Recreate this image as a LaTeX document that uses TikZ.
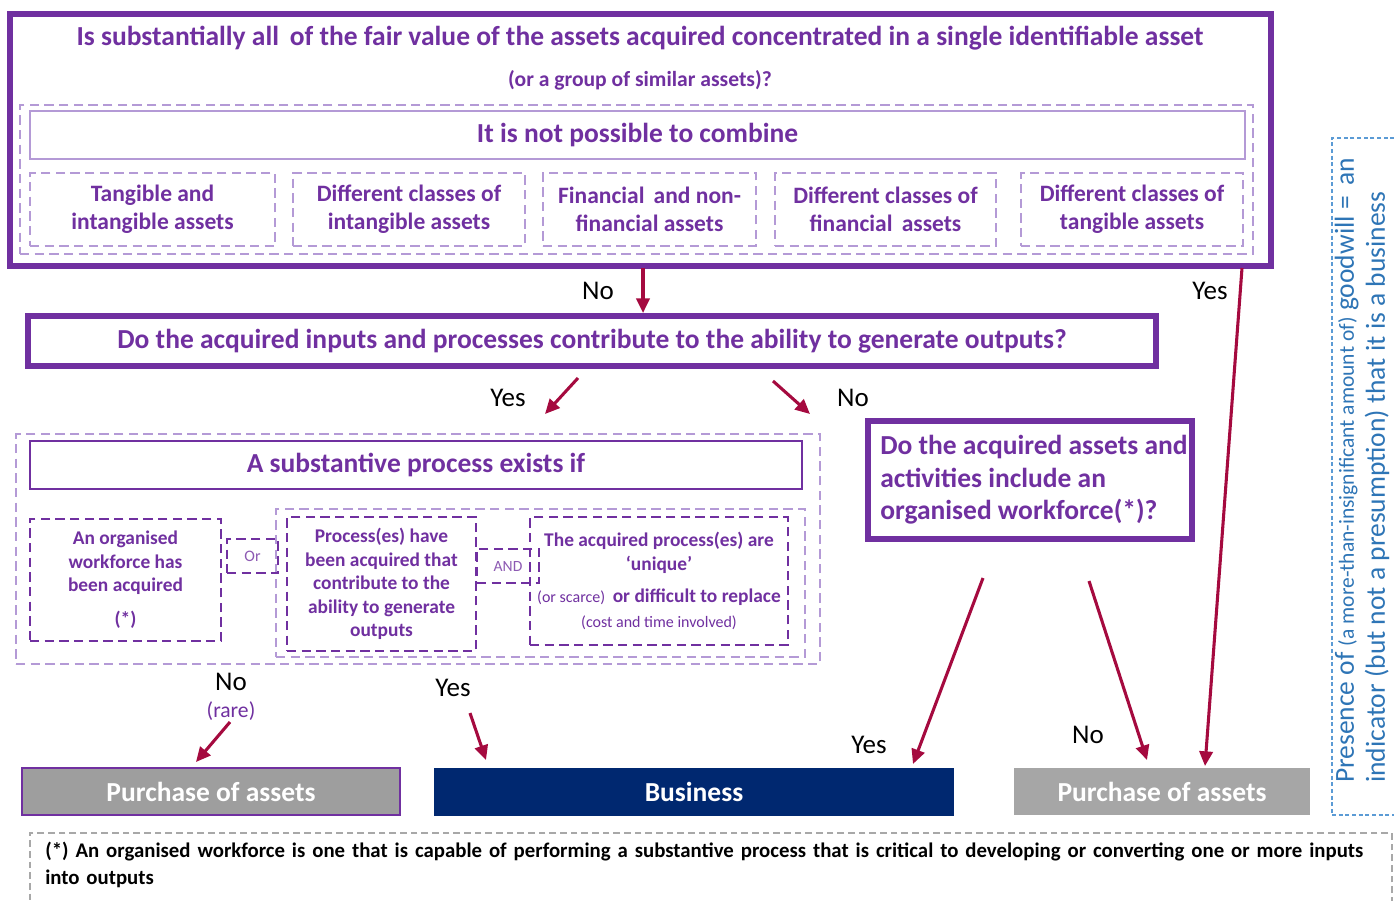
\documentclass[tikz,border=0pt]{standalone}
\usepackage{fontspec}
\setmainfont{Carlito}
\usetikzlibrary{arrows.meta}
\definecolor{pur}{HTML}{7030A0}
\definecolor{lpur}{HTML}{B49AD6}
\definecolor{crim}{HTML}{A50A3F}
\definecolor{navy}{HTML}{002870}
\definecolor{gryA}{HTML}{9E9E9E}
\definecolor{gryB}{HTML}{A6A6A6}
\definecolor{blu}{HTML}{5B9BD5}
\definecolor{blutxt}{HTML}{2E75B6}
\definecolor{ngry}{HTML}{A8A8A8}
\newcommand\fsz[2]{\fontsize{\dimexpr #1pt*3/4\relax}{\dimexpr #2pt*3/4\relax}\selectfont}
\begin{document}
\begin{tikzpicture}[x=0.75pt,y=-0.75pt,
  sz/.style 2 args={minimum width=#1*0.75pt, minimum height=#2*0.75pt, inner sep=0pt},
  obox/.style={draw=pur, line width=4.2pt},
  mbox/.style={draw=pur, line width=2pt},
  lsol/.style={draw=lpur, line width=2pt},
  ldash/.style={draw=lpur, line width=1.6pt, dash pattern=on 7pt off 4pt},
  ddash/.style={draw=pur, line width=1.9pt, dash pattern=on 7pt off 4pt},
  ptxt/.style={text=pur, font=\bfseries\fsz{27.5}{32}, align=center},
  stxt/.style={text=pur, font=\bfseries\fsz{23.5}{28}, align=center},
  ptxt2/.style={text=pur, font=\bfseries\fsz{19.4}{23.5}, align=center},
  lbl/.style={text=black, font=\fsz{27}{30}, inner sep=0pt},
  arr/.style={draw=crim, line width=2.3pt, -{Triangle[length=11pt,width=10pt]}},
  res/.style={text=white, font=\bfseries\fsz{27.5}{32}, inner sep=0pt},
]
\useasboundingbox (0,0) rectangle (1394,900);
\fill[white] (0,0) rectangle (1394,900);

% ---- top question
\node[obox, sz={1261}{252}] (top) at (640.5,140) {};
\node[ptxt, inner sep=0pt] (title) at (640,38) {Is substantially all\, of the fair value of the assets acquired concentrated in a single identifiable asset};
\node[text=pur, font=\bfseries\fsz{21.6}{25}, inner sep=0pt] (subt) at (640,80) {(or a group of similar assets)?};
\node[ldash, sz={1233}{149}] (combo) at (636.5,179.5) {};
\node[lsol, sz={1215}{48}, ptxt] (comb) at (637.5,135) {It is not possible to combine};
\node[ldash, sz={245}{73}, stxt] (c1) at (152.5,209.5) {Tangible and\\intangible assets};
\node[ldash, sz={232}{73}, stxt] (c2) at (409,209.5) {Different classes of\\intangible assets};
\node[ldash, sz={213}{73}, stxt] (c3) at (649.5,209.5) {Financial\, and non-\\financial assets};
\node[ldash, sz={221}{73}, stxt] (c4) at (885.5,209.5) {Different classes of\\financial\, assets};
\node[ldash, sz={222}{73}, stxt] (c5) at (1132,209.5) {Different classes of\\tangible assets};

% ---- second question
\node[draw=pur, line width=3.8pt, sz={1128}{50}, ptxt] (q2) at (592,341) {Do the acquired inputs and processes contribute to the ability to generate outputs?};

% ---- substantive process
\node[ldash, sz={804}{230}] (subst) at (418,549) {};
\node[mbox, sz={772}{48}, ptxt] (substh) at (416,465) {A substantive process exists if};
\node[ldash, sz={529}{148}] (inner) at (540.5,583) {};
\node[ddash, sz={191}{122}, ptxt2] (wf) at (125.5,580) {An organised\\workforce has\\been acquired\\[8pt](*)};
\node[ddash, line width=2.2pt, sz={51}{34}, text=pur!80, font=\fsz{16}{18}] (orb) at (252.5,556) {Or};
\node[ddash, sz={189}{134}, ptxt2] (proc) at (381.5,584) {Process(es) have\\been acquired that\\contribute to the\\ability to generate\\outputs};
\node[ddash, line width=2.2pt, sz={62}{34}, text=pur!80, font=\fsz{15.6}{18}] (andb) at (508,566) {AND};
\node[ddash, sz={258}{128}, ptxt2] (uniq) at (659,581) {The acquired process(es) are\\\textquoteleft unique\textquoteright\\[7pt]{\mdseries\fsz{16}{18}(or scarce)}\, or difficult to replace\\[1pt]{\mdseries\fsz{16}{22}(cost and time involved)}};

% ---- third question
\node[draw=pur, line width=3.8pt, sz={324}{118}] (q3) at (1030,480) {};
\node[text=pur, font=\bfseries\fsz{27.5}{32.5}, align=left, inner sep=0pt, anchor=west] (q3t) at (880,480) {Do the acquired assets and\\activities include an\\organised workforce(*)?};

% ---- outcomes
\node[fill=gryA, draw=pur, line width=1.1pt, sz={378}{47}, res] (pa1) at (211,791.5) {Purchase of assets};
\node[fill=navy, sz={520}{48}, res] (bus) at (694,792) {Business};
\node[fill=gryB, sz={296}{47}, res] (pa2) at (1162,791.5) {Purchase of assets};

% ---- goodwill note
\node[draw=blu, line width=1.1pt, dash pattern=on 3pt off 2pt, sz={66}{677}] (gw) at (1365,476.5) {};
\node[rotate=90, anchor=west, align=left, text=blutxt, font=\fsz{27.5}{31}, inner sep=0pt] (gwt) at (1362,783) {Presence of {\fsz{21.5}{22}(a more-than-insignificant amount of)} goodwill = \,an\\indicator (but not a presumption) that it is a business};

% ---- footnote
\node[draw=ngry, line width=1.5pt, dash pattern=on 5pt off 3pt, sz={1362}{74}] (fn) at (711,870) {};
\node[anchor=north west, text width=1345*0.75pt, align=left, font=\bfseries\fsz{20.8}{27}, inner sep=0pt] (fnt) at (45,842) {(*) An organised workforce is one that is capable of performing a substantive process that is critical to developing or converting one or more inputs into outputs};

% ---- connectors
\coordinate (a1s) at (643,268); \coordinate (a1e) at (643,313);
\draw[arr] (a1s) -- (a1e);
\node[lbl] (lno1) at (598,291) {No};
\coordinate (a2s) at (1242,268); \coordinate (a2e) at (1205,766);
\draw[arr] (a2s) -- (a2e);
\node[lbl] (lyes1) at (1210,291) {Yes};
\coordinate (a3s) at (578,378); \coordinate (a3e) at (545,414);
\draw[arr] (a3s) -- (a3e);
\node[lbl] (lyes2) at (508,398) {Yes};
\coordinate (a4s) at (773,381); \coordinate (a4e) at (810,414);
\draw[arr] (a4s) -- (a4e);
\node[lbl] (lno2) at (853,398) {No};
\coordinate (a5s) at (983,578); \coordinate (a5e) at (913,764);
\draw[arr] (a5s) -- (a5e);
\node[lbl] (lyes3) at (869,745) {Yes};
\coordinate (a6s) at (1089,581); \coordinate (a6e) at (1147,760);
\draw[arr] (a6s) -- (a6e);
\node[lbl] (lno3) at (1088,735) {No};
\coordinate (a7s) at (230,722); \coordinate (a7e) at (196,762);
\draw[arr] (a7s) -- (a7e);
\node[lbl] (lno4) at (231,682) {No};
\node[text=pur, font=\fsz{21.6}{24}, inner sep=0pt] (rare) at (231,711) {(rare)};
\coordinate (a8s) at (470,713); \coordinate (a8e) at (486,760);
\draw[arr] (a8s) -- (a8e);
\node[lbl] (lyes4) at (453,688) {Yes};
\end{tikzpicture}
\end{document}
